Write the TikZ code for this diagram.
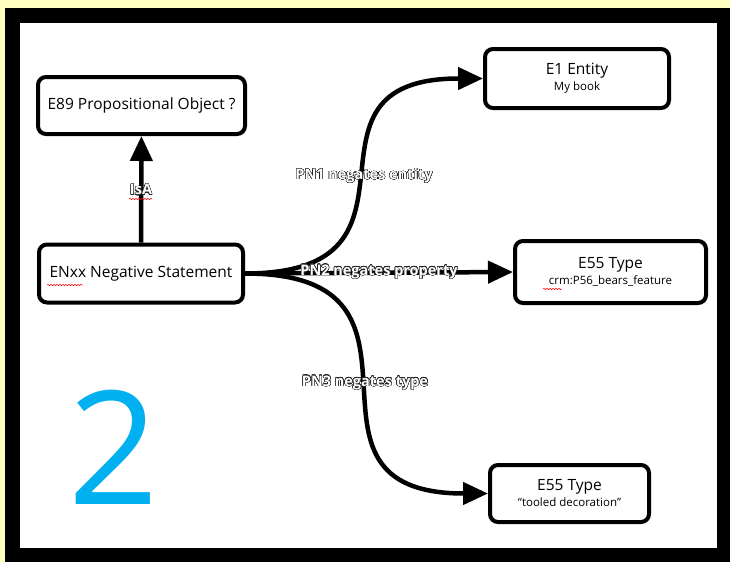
\documentclass[tikz,border=0pt]{standalone}
\usepackage{fontspec}
\setmainfont{Open Sans}
\usepackage{contour}
\usetikzlibrary{arrows.meta,positioning,decorations.pathmorphing}

\definecolor{paper}{HTML}{FFFFC0}
\definecolor{bigcyan}{HTML}{00B0F0}
\contourlength{0.45pt}
\contournumber{24}
\newcommand{\haloed}[1]{\contour{black!85}{\textcolor{white}{#1}}}
\newcommand{\subtext}[1]{{\fontsize{11.5pt}{12pt}\selectfont #1}}

\begin{document}
\begin{tikzpicture}[x=1pt, y=-1pt,
    entbox/.style={draw, line width=4pt, rectangle, rounded corners=8pt, fill=white, align=center, font=\fontsize{15.5pt}{16pt}\selectfont},
    rel/.style={line width=4.5pt, -{Triangle[length=25pt,width=22pt]}},
    rellabel/.style={font=\fontsize{14.5pt}{15pt}\selectfont\bfseries, inner sep=0pt},
    spell/.style={red, line width=0.5pt, decorate, decoration={snake, amplitude=0.7pt, segment length=3pt}}]
        % frame
        \fill[paper] (0,0) rectangle (730,562);
        \fill[black] (5,8) rectangle (730,562);
        \fill[white] (20,23) rectangle (717,548);

        \node[entbox, minimum width=207pt, minimum height=57pt] (prop) at (141.5,105.5) {E89 Propositional Object ?};
        \node[entbox, minimum width=204pt, minimum height=58pt] (negst) at (141,273.5) {ENxx Negative Statement};
        \node[entbox, minimum width=184pt, minimum height=59pt] (entity) at (577,78.5) {E1 Entity\\\subtext{My book}};
        \node[entbox, minimum width=191pt, minimum height=62pt] (bearstype) at (610.5,272) {E55 Type\\\subtext{crm:P56\_bears\_feature}};
        \node[entbox, minimum width=159pt, minimum height=57pt] (tooledtype) at (569.5,493.5) {E55 Type\\\subtext{“tooled decoration”}};

        \node[text=bigcyan, font=\fontsize{158pt}{160pt}\selectfont, inner sep=0pt] (bignum) at (114,447) {2};

        \draw[rel] (negst) -- (prop);
        \draw[rel] (negst.east) to[out=0, in=180, looseness=1.7] (entity.west);
        \draw[rel] (negst.east) -- (bearstype.west);
        \draw[rel] (negst.east) to[out=0, in=180, looseness=1.7] (tooledtype.west);

        \node[rellabel] (isa) at (141,190) {\haloed{IsA}};
        \node[rellabel] (pn1) at (364,176) {\haloed{PN1 negates entity}};
        \node[rellabel] (pn2) at (379,272) {\haloed{PN2 negates property}};
        \node[rellabel] (pn3) at (365,383) {\haloed{PN3 negates type}};

        % spell checker marks
        \draw[spell] (47,285) -- (83,285);
        \draw[spell] (129,199) -- (152,199);
        \draw[spell] (543,289) -- (562,289);
\end{tikzpicture}
\end{document}
